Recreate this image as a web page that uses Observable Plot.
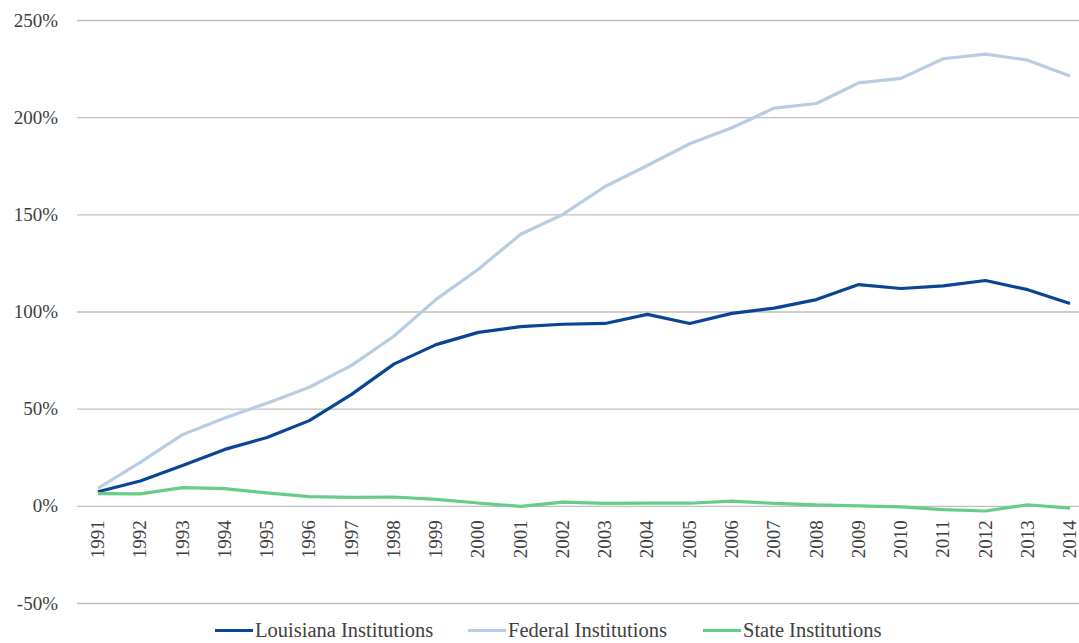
<!DOCTYPE html>
<html>
<head>
<meta charset="utf-8">
<script src="https://cdn.jsdelivr.net/npm/d3@7"></script>
<script src="https://cdn.jsdelivr.net/npm/@observablehq/plot@0.6"></script>
<style>
  html, body { margin: 0; padding: 0; background: #fff; }
  #chart { width: 1079px; position: relative; }
  .legend { position: relative; height: 25px; font-family: "Liberation Serif", "Times New Roman", serif; font-size: 20.5px; color: #404040; }
  .legend .item { position: absolute; top: 0; height: 25px; display: flex; align-items: center; white-space: nowrap; }
  .legend .sw { width: 38px; height: 3.5px; margin-right: 2px; }
</style>
</head>
<body>
<div id="chart"></div>
<script>
const years = [1991,1992,1993,1994,1995,1996,1997,1998,1999,2000,2001,2002,2003,2004,2005,2006,2007,2008,2009,2010,2011,2012,2013,2014];
const louisiana = [7.5,13,21,29.3,35.4,44.1,57.6,73.2,83.2,89.5,92.5,93.7,94.1,98.8,94.1,99.3,102,106.4,114.1,112.1,113.4,116.2,111.5,104.4];
const federal = [9.3,22.6,36.9,45.4,53.1,61.3,72.5,87.5,106.5,122,140,150.2,164.6,175.4,186.6,194.8,204.9,207.3,217.9,220.2,230.3,232.7,229.6,221.5];
const state = [6.5,6.4,9.6,9.1,6.9,5,4.6,4.8,3.6,1.7,0,2.2,1.5,1.6,1.6,2.7,1.5,0.7,0.2,-0.3,-1.7,-2.4,0.8,-0.9];
const seriesNames = ["Louisiana Institutions","Federal Institutions","State Institutions"];
const seriesColors = ["#0a4494","#b8cce4","#66cc88"];
const yTicks = [-50,0,50,100,150,200,250];
const legendLeft = [215, 468, 703];

const data = [];
[louisiana, federal, state].forEach((arr, i) => {
  arr.forEach((v, j) => data.push({year: years[j], value: v, series: seriesNames[i]}));
});

const font = '"Liberation Serif", "Times New Roman", serif';
const plot = Plot.plot({
  width: 1079,
  height: 618,
  marginLeft: 97.5,
  marginRight: 9.5,
  marginTop: 20,
  marginBottom: 15,
  style: {fontFamily: font, fontSize: "19px", color: "#404040", background: "#fff"},
  x: {type: "linear", domain: [1991, 2014], axis: null},
  y: {domain: [-50, 250], axis: null},
  color: {domain: seriesNames, range: seriesColors},
  marks: [
    Plot.ruleY(yTicks, {stroke: "#bfbfbf", strokeWidth: 1.3, insetLeft: -20.5, insetRight: -9.5}),
    Plot.text(yTicks, {x: 1991, y: d => d, text: d => d + "%", textAnchor: "end", dx: -40, fill: "#404040", fontSize: 19}),
    Plot.text(years, {x: d => d, y: 0, text: d => String(d), rotate: -90, textAnchor: "end", dy: 14, fill: "#404040", fontSize: 19}),
    Plot.line(data, {x: "year", y: "value", z: "series", stroke: "series", strokeWidth: 3.2, strokeLinejoin: "miter", strokeLinecap: "butt"})
  ]
});
document.getElementById("chart").appendChild(plot);

const legend = document.createElement("div");
legend.className = "legend";
seriesNames.forEach((n, i) => {
  const it = document.createElement("div");
  it.className = "item";
  it.style.left = legendLeft[i] + "px";
  const sw = document.createElement("span");
  sw.className = "sw";
  sw.style.background = seriesColors[i];
  const t = document.createElement("span");
  t.textContent = n;
  it.appendChild(sw); it.appendChild(t);
  legend.appendChild(it);
});
document.getElementById("chart").appendChild(legend);
</script>
</body>
</html>
